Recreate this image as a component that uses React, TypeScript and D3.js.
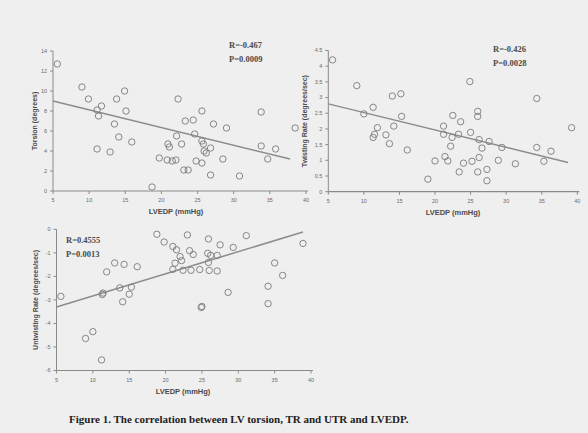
import React from "react";
import * as d3 from "d3";

const xTicks = [5, 10, 15, 20, 25, 30, 35, 40];

// Panel 1: Torsion
const torsionX = [5.6, 9.0, 9.9, 11.1, 11.7, 11.3, 11.1, 12.9, 13.5, 13.8, 14.1, 14.9, 15.1, 15.9, 18.7, 19.7, 20.9, 21.1, 20.8, 21.5, 22.0, 22.1, 22.3, 22.8, 23.3, 23.1, 23.7, 24.4, 24.6, 24.8, 25.6, 25.6, 25.6, 25.8, 25.9, 26.2, 26.8, 26.8, 27.2, 28.5, 29.0, 30.8, 33.8, 33.8, 34.7, 35.8, 38.5];
const torsionY = [12.7, 10.4, 9.2, 8.1, 8.5, 7.5, 4.2, 3.9, 6.7, 9.2, 5.4, 10.0, 8.0, 4.9, 0.4, 3.3, 4.7, 4.4, 3.1, 3.0, 3.1, 5.5, 9.2, 4.7, 7.0, 2.1, 2.1, 7.1, 5.7, 3.0, 2.8, 8.0, 5.0, 4.7, 4.0, 3.8, 4.3, 1.6, 6.7, 3.2, 6.3, 1.5, 7.9, 4.5, 3.2, 4.2, 6.3];
const torsionTicks = [0, 2, 4, 6, 8, 10, 12, 14];
const torsionFit = [9.89, -0.177, 5, 37.8]; // intercept, slope, xFrom, xTo

// Panel 2: Twisting rate
const twistX = [5.6, 9.0, 10.0, 11.3, 11.3, 11.5, 11.9, 13.1, 13.6, 14.0, 14.2, 15.2, 15.3, 16.1, 19.0, 20.0, 21.2, 21.2, 21.4, 21.8, 22.2, 22.5, 22.4, 23.3, 23.4, 23.6, 24.0, 24.9, 25.0, 25.2, 26.0, 26.0, 26.2, 26.2, 26.0, 26.6, 27.3, 27.3, 27.6, 28.9, 29.4, 31.3, 34.3, 34.3, 35.3, 36.3, 39.2];
const twistY = [4.2, 3.38, 2.48, 2.69, 1.73, 1.83, 2.04, 1.81, 1.53, 3.05, 2.09, 3.12, 2.4, 1.33, 0.4, 0.98, 2.09, 1.83, 1.12, 0.98, 1.45, 2.43, 1.73, 1.83, 0.63, 2.23, 0.91, 3.51, 1.89, 0.97, 2.56, 2.4, 1.66, 1.09, 0.63, 1.39, 0.71, 0.35, 1.6, 1.0, 1.41, 0.89, 2.97, 1.41, 0.97, 1.29, 2.04];
const twistTicks = [0, 0.5, 1, 1.5, 2, 2.5, 3, 3.5, 4, 4.5];
const twistTickLabels = ["0", "0.5", "1", "1.5", "2", "2.5", "3", "3.5", "4", "4.5"];
const twistFit = [3.077, -0.0555, 5, 38.7];

// Panel 3: Untwisting rate
const untwistX = [5.6, 9.0, 10.0, 11.2, 11.3, 11.4, 11.9, 13.0, 13.7, 14.1, 14.3, 15.0, 15.3, 16.1, 18.8, 19.8, 21.0, 21.5, 21.3, 21.0, 22.0, 22.2, 22.4, 23.0, 23.3, 23.8, 23.5, 24.7, 24.9, 25.0, 25.9, 25.8, 26.2, 25.9, 26.0, 27.1, 27.1, 27.5, 28.6, 29.3, 31.1, 34.1, 34.1, 35.0, 36.1, 38.9];
const untwistY = [-2.85, -4.64, -4.35, -5.55, -2.77, -2.71, -1.81, -1.43, -2.49, -3.08, -1.49, -2.76, -2.46, -1.59, -0.21, -0.54, -0.73, -0.87, -1.44, -1.7, -1.16, -1.33, -1.74, -0.24, -0.91, -1.07, -1.74, -1.71, -3.32, -3.28, -0.41, -1.02, -1.11, -1.41, -1.75, -1.11, -1.77, -0.66, -2.68, -0.77, -0.27, -2.42, -3.16, -1.43, -1.96, -0.6];
const untwistTicks = [0, -1, -2, -3, -4, -5, -6];
const untwistFit = [-3.77, 0.094, 5, 38.9];

const xTitle = "LVEDP (mmHg)";
const caption = "Figure 1. The correlation between LV torsion, TR and UTR and LVEDP.";

type PanelProps = {
  xs: number[];
  ys: number[];
  yTicks: number[];
  yLabels?: string[];
  yDomain: [number, number];
  fit: number[];
  x0: number;
  x1: number;
  yTop: number;
  yBottom: number;
  yTitle: string;
  yTitleX: number;
  stats: string[];
  statsX: number;
  statsY: number;
  xTitleX: number;
};

const AXIS = "#8a8a8a";
const TICKTXT = "#6a6a6a";
const PT = "#7a7a7a";

function Panel(p: PanelProps) {
  const x = d3.scaleLinear().domain([5, 40]).range([p.x0, p.x1]);
  const y = d3.scaleLinear().domain(p.yDomain).range([p.yBottom, p.yTop]);
  const line = d3.line<number>().x((v) => x(v)).y((v) => y(p.fit[0] + p.fit[1] * v));
  const baseY = y(p.yDomain[0]);
  const midY = (p.yTop + p.yBottom) / 2;
  return (
    <g>
      <line x1={p.x0} x2={p.x0} y1={p.yTop} y2={p.yBottom} stroke={AXIS} strokeWidth={1} />
      {p.yTicks.map((t, i) => (
        <g key={"yt" + i}>
          <line x1={p.x0 - 3} x2={p.x0} y1={y(t)} y2={y(t)} stroke={AXIS} />
          <text x={p.x0 - 6} y={y(t)} dy="0.35em" textAnchor="end" fontSize={5.5} fill={TICKTXT} fontFamily="Liberation Sans, Arial, sans-serif">
            {p.yLabels ? p.yLabels[i] : String(t)}
          </text>
        </g>
      ))}
      <line x1={p.x0} x2={p.x1 + 2} y1={baseY} y2={baseY} stroke={AXIS} strokeWidth={1.2} />
      {xTicks.map((t) => (
        <g key={"xt" + t}>
          <line x1={x(t)} x2={x(t)} y1={baseY} y2={baseY + 3} stroke={AXIS} />
          <text x={x(t)} y={baseY + 11} textAnchor="middle" fontSize={5.5} fill={TICKTXT} fontFamily="Liberation Sans, Arial, sans-serif">
            {t}
          </text>
        </g>
      ))}
      <path d={line([p.fit[2], p.fit[3]]) || ""} stroke="#8c8c8c" strokeWidth={1.5} fill="none" />
      {p.xs.map((v, i) => (
        <circle key={"p" + i} cx={x(v)} cy={y(p.ys[i])} r={3.2} fill="none" stroke={PT} strokeWidth={0.9} />
      ))}
      <text x={p.xTitleX} y={baseY + 23} textAnchor="middle" fontSize={7.5} fontWeight="bold" fill="#4a4a4a" fontFamily="Liberation Sans, Arial, sans-serif">
        {xTitle}
      </text>
      <text transform={`translate(${p.yTitleX},${midY}) rotate(-90)`} textAnchor="middle" fontSize={7} fontWeight="bold" fill="#4a4a4a" fontFamily="Liberation Sans, Arial, sans-serif">
        {p.yTitle}
      </text>
      {p.stats.map((s, i) => (
        <text key={"s" + i} x={p.statsX} y={p.statsY + i * 14} fontSize={8.5} fontWeight="bold" fill="#4a4a4a" fontFamily="Liberation Serif, Times New Roman, serif">
          {s}
        </text>
      ))}
    </g>
  );
}

export default function App() {
  return (
    <svg width={588} height={433} style={{ position: "fixed", left: 0, top: 0, background: "#efefef" }}>
      <rect x={0} y={0} width={588} height={433} fill="#efefef" />
      <Panel xs={torsionX} ys={torsionY} yTicks={torsionTicks} yDomain={[0, 14]} fit={torsionFit}
        x0={53} x1={306} yTop={51} yBottom={191} yTitle="Torsion (degrees)" yTitleX={37}
        stats={["R=-0.467", "P=0.0009"]} statsX={229} statsY={48} xTitleX={176} />
      <Panel xs={twistX} ys={twistY} yTicks={twistTicks} yLabels={twistTickLabels} yDomain={[0, 4.5]} fit={twistFit}
        x0={328.3} x1={577.3} yTop={50.5} yBottom={191.7} yTitle="Twisting Rate (degrees/sec)" yTitleX={307}
        stats={["R=-0.426", "P=0.0028"]} statsX={493} statsY={52} xTitleX={453} />
      <Panel xs={untwistX} ys={untwistY} yTicks={untwistTicks} yDomain={[-6, 0]} fit={untwistFit}
        x0={56.5} x1={311} yTop={229.3} yBottom={370.5} yTitle="Untwisting Rate (degrees/sec)" yTitleX={38}
        stats={["R=0.4555", "P=0.0013"]} statsX={66} statsY={243} xTitleX={183} />
      <text x={69} y={423} fontSize={11} fontWeight="bold" fill="#222" fontFamily="Liberation Serif, Times New Roman, serif">
        {caption}
      </text>
    </svg>
  );
}
